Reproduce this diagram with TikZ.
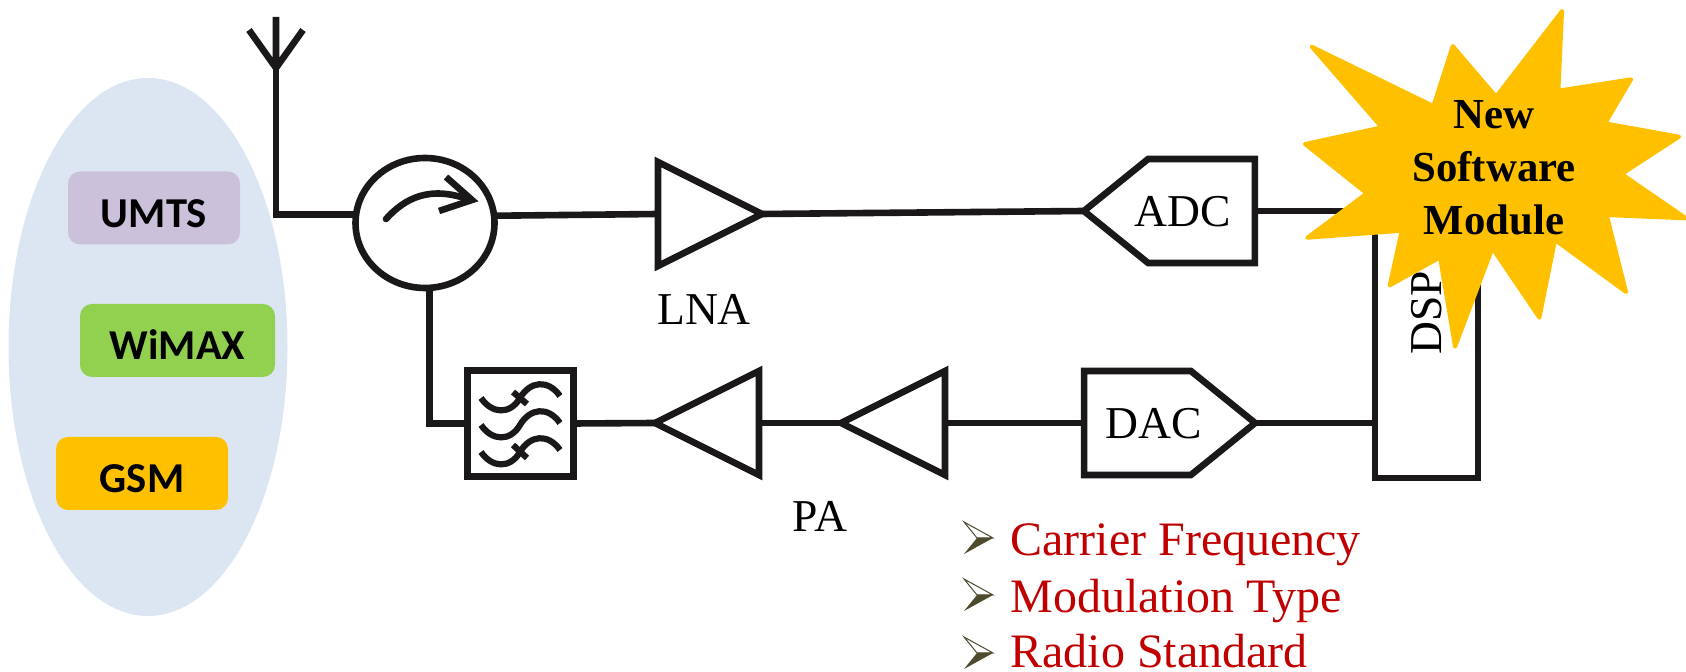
\documentclass[tikz,border=0pt]{standalone}
\usepackage{fontspec}
\setmainfont{Liberation Serif}
\newfontfamily\boxfont{Carlito}
\usetikzlibrary{positioning,shapes.geometric,shapes.symbols}
\definecolor{wirecol}{RGB}{26,24,24}
\definecolor{ovalcol}{RGB}{220,230,242}
\definecolor{umtscol}{RGB}{204,193,218}
\definecolor{wimaxcol}{RGB}{146,208,80}
\definecolor{starcol}{RGB}{255,192,0}
\definecolor{listcol}{RGB}{192,0,0}
\definecolor{tipcol}{RGB}{77,74,46}

\begin{document}
\begin{tikzpicture}[
        x=0.5pt, y=-0.5pt,
        wire/.style={draw=wirecol, line width=3.3pt},
        std/.style={fill=#1, rounded corners=6pt, minimum width=86pt, minimum height=36.5pt, inner sep=0pt, text height=19.3pt, text depth=0pt, font=\boxfont\fontsize{21.3}{24}\selectfont\bfseries},
        amp/.style={wire, isosceles triangle, isosceles triangle stretches, minimum width=52pt, minimum height=52pt, inner sep=0pt, outer sep=0pt},
        conv/.style={wire, signal, signal from=nowhere, signal pointer angle=78, minimum width=85.5pt, minimum height=52pt, inner sep=0pt, outer sep=0pt},
        lbl/.style={font=\fontsize{22.8}{26}\selectfont},
        item/.style={anchor=base west, inner sep=0pt, text=listcol, font=\fontsize{24}{28}\selectfont}]
        \useasboundingbox (0,0) rectangle (1686,672);
        % standards
        \node[fill=ovalcol, ellipse, minimum width=139.5pt, minimum height=269pt, inner sep=0pt] (oval) at (148,347) {};
        \node[std=umtscol] (umts) at (154,208) {UMTS};
        \node[std=wimaxcol, minimum width=97.5pt] (wimax) at (177.5,340.5) {WiMAX};
        \node[std=starcol] (gsm) at (142,473.5) {GSM};
        % receive and transmit chain
        \node[wire, ellipse, minimum width=69.5pt, minimum height=65pt, inner sep=0pt, outer sep=0pt] (circ) at (425,223) {};
        \node[wire, minimum width=53pt, minimum height=53pt, inner sep=0pt, outer sep=0pt] (filt) at (520.5,423.5) {};
        \node[amp, anchor=lower side] (lna) at (658,214) {};
        \node[lbl] (lnatxt) at (704,309) {LNA};
        \node[amp, shape border rotate=180, anchor=lower side] (pa2) at (759,423) {};
        \node[amp, shape border rotate=180, anchor=lower side] (pa1) at (945,423) {};
        \node[lbl] (patxt) at (820,516) {PA};
        \node[conv, signal to=west] (adc) at (1201.5,211) {};
        \node[lbl] (adctxt) at (1183,212) {ADC};
        \node[conv, signal to=east] (dac) at (1137.5,423) {};
        \node[lbl] (dactxt) at (1154,424) {DAC};
        \node[wire, minimum width=51.5pt, minimum height=140pt, inner sep=0pt, outer sep=0pt] (dsp) at (1426.5,338) {};
        \node[lbl, rotate=90] (dsptxt) at (1427,313) {DSP};
        \coordinate (ant) at (276,68);
        \coordinate (anttop) at (276,17);
        \coordinate (antl) at (249,30);
        \coordinate (antr) at (303,30);
        \draw[wire, line join=miter] (anttop) -- (ant) (antl) -- (ant) -- (antr);
        \draw[wire] (ant) |- (circ.173);
        \draw[wire] (circ.6) -- (lna.lower side);
        \draw[wire] (lna.apex) -- (adc.west);
        \draw[wire] (adc.east) -- (dsp.west |- adc.east);
        \draw[wire] (circ.-86) |- (filt.west);
        \draw[wire] (filt.east) -- (pa2.apex);
        \draw[wire] (pa2.lower side) -- (pa1.apex);
        \draw[wire] (pa1.lower side) -- (dac.west);
        \draw[wire] (dac.east) -- (dsp.west |- dac.east);
        % circulator arrow
        \draw[wire, line cap=round] (386,219) .. controls (405,198) and (430,185) .. (470,200);
        \draw[wire, line join=miter] (446,177) -- (472,200) -- (439,211);
        % filter curves
        \foreach \yoff in {-27,0,27} {
          \draw[wire, line width=3.1pt] (481,425+\yoff) .. controls (492,441+\yoff) and (510,442+\yoff) .. (520,425+\yoff) .. controls (530,408+\yoff) and (548,406+\yoff) .. (560,423+\yoff);
        }
        \draw[wire, line width=3.1pt] (513,392) -- (527,404) (513,445) -- (527,458);
        % software module
        \begin{scope}[shift={(1280,0)}, x=0.1667pt, y=-0.1667pt]
          \draw[fill=starcol, draw=starcol, line width=2pt, line join=round]
            (95,140) -- (460,318) -- (518,138) -- (648,290) -- (846,33) -- (835,272) -- (1053,238)
            -- (975,370) -- (1197,410) -- (1025,522) -- (1218,655) -- (980,645) -- (1038,876)
            -- (825,720) -- (778,953) -- (637,745) -- (525,1040) -- (480,772) -- (329,856)
            -- (365,692) -- (82,713) -- (260,580) -- (75,432) -- (305,382) -- cycle;
        \end{scope}
        \node[align=center, inner sep=0pt, font=\fontsize{21.4}{26.5}\selectfont\bfseries] (soft) at (1494,168) {New\\Software\\Module};
        % parameters
        \node[item] (carrier) at (1010,556) {Carrier Frequency};
        \node[item] (modtype) at (1010,613) {Modulation Type};
        \node[item] (radio) at (1010,668) {Radio Standard};
        \foreach \ypos in {538,595,653} {
          \draw[tipcol, fill=white, line width=0.5pt] (964,\ypos-16) -- (993,\ypos) -- (977,\ypos) -- cycle;
          \fill[tipcol] (964,\ypos+16) -- (993,\ypos) -- (977,\ypos) -- cycle;
        }
      \end{tikzpicture}
\end{document}
